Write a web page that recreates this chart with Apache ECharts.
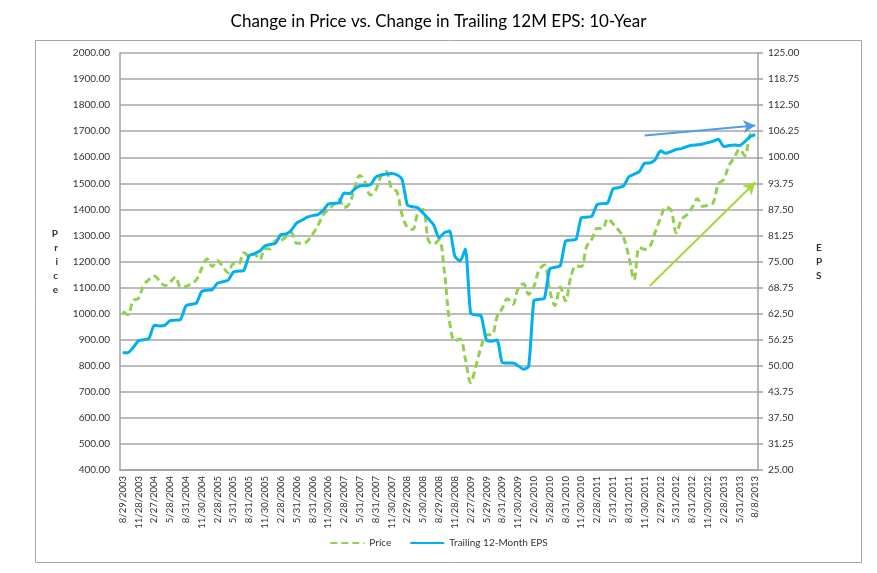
<!DOCTYPE html>
<html>
<head>
<meta charset="utf-8">
<script src="https://cdn.jsdelivr.net/npm/echarts@6/dist/echarts.min.js"></script>
<style>
html,body{margin:0;padding:0;background:#fff;}
#chart{width:877px;height:573px;}
</style>
</head>
<body>
<div id="chart"></div>
<script>
const categories = [
"8/29/2003","9/30/2003","10/31/2003","11/28/2003","12/31/2003",
"1/30/2004","2/27/2004","3/31/2004","4/30/2004","5/28/2004","6/30/2004","7/30/2004","8/31/2004","9/30/2004","10/29/2004","11/30/2004","12/31/2004",
"1/31/2005","2/28/2005","3/31/2005","4/29/2005","5/31/2005","6/30/2005","7/29/2005","8/31/2005","9/30/2005","10/31/2005","11/30/2005","12/30/2005",
"1/31/2006","2/28/2006","3/31/2006","4/28/2006","5/31/2006","6/30/2006","7/31/2006","8/31/2006","9/29/2006","10/31/2006","11/30/2006","12/29/2006",
"1/31/2007","2/28/2007","3/30/2007","4/30/2007","5/31/2007","6/29/2007","7/31/2007","8/31/2007","9/28/2007","10/31/2007","11/30/2007","12/31/2007",
"1/31/2008","2/29/2008","3/31/2008","4/30/2008","5/30/2008","6/30/2008","7/31/2008","8/29/2008","9/30/2008","10/31/2008","11/28/2008","12/31/2008",
"1/30/2009","2/27/2009","3/31/2009","4/30/2009","5/29/2009","6/30/2009","7/31/2009","8/31/2009","9/30/2009","10/30/2009","11/30/2009","12/31/2009",
"1/29/2010","2/26/2010","3/31/2010","4/30/2010","5/28/2010","6/30/2010","7/30/2010","8/31/2010","9/30/2010","10/29/2010","11/30/2010","12/31/2010",
"1/31/2011","2/28/2011","3/31/2011","4/29/2011","5/31/2011","6/30/2011","7/29/2011","8/31/2011","9/30/2011","10/31/2011","11/30/2011","12/30/2011",
"1/31/2012","2/29/2012","3/30/2012","4/30/2012","5/31/2012","6/29/2012","7/31/2012","8/31/2012","9/28/2012","10/31/2012","11/30/2012","12/31/2012",
"1/31/2013","2/28/2013","3/28/2013","4/30/2013","5/31/2013","6/28/2013","7/31/2013","8/8/2013"
];

const priceValues = [
1008,996,1050,1058,1110,
1131,1144,1126,1107,1121,1140,1102,1104,1115,1130,1174,1210,
1181,1203,1180,1157,1191,1191,1234,1220,1228,1207,1249,1248,
1280,1281,1295,1310,1270,1270,1277,1304,1336,1378,1400,1418,
1438,1407,1421,1482,1530,1503,1455,1474,1527,1545,1481,1468,
1379,1331,1323,1386,1400,1280,1267,1283,1165,969,896,903,
826,735,798,873,919,919,987,1021,1057,1036,1096,1115,
1074,1104,1169,1187,1089,1031,1102,1049,1141,1183,1181,1258,
1286,1327,1326,1364,1345,1321,1292,1219,1131,1253,1247,1258,
1312,1366,1408,1398,1310,1362,1379,1407,1441,1412,1416,1426,
1498,1515,1569,1598,1631,1606,1686,1697
];

const epsValues = [
53.13,53.13,54.38,56.00,56.25,
56.56,59.69,59.56,59.69,60.81,60.94,61.13,64.38,64.75,65.06,67.81,68.13,
68.25,69.81,70.13,70.50,72.44,72.69,72.88,76.38,76.88,77.50,78.75,79.06,
79.38,81.44,81.63,82.50,84.25,84.88,85.63,86.00,86.25,87.19,88.81,88.94,
89.06,91.44,91.25,92.38,93.13,93.25,93.38,95.25,95.75,96.00,96.13,95.81,
94.69,88.56,88.13,87.88,86.56,85.25,83.75,80.69,81.88,82.31,76.25,75.13,
78.00,62.56,62.19,61.94,56.19,55.88,56.19,50.75,50.63,50.63,50.00,49.19,
49.81,65.63,65.94,66.19,73.19,73.63,74.00,79.88,80.13,80.31,85.50,85.63,
85.88,88.69,88.88,89.06,92.44,92.69,93.13,95.31,95.94,96.56,98.56,98.63,
99.38,101.56,100.94,101.38,101.88,102.06,102.56,102.88,103.00,103.19,103.50,103.88,
104.31,102.56,102.81,102.94,102.81,103.75,104.94,105.38
];

// annotation arrows: [categoryIndex, value]
const epsArrow = [[99, 105.2], [120, 107.6]];
const priceArrow = [[100, 1107], [120, 1504]];

const FONT = 'Lato';
const chart = echarts.init(document.getElementById('chart'));
chart.setOption({
  animation: false,
  backgroundColor: '#fff',
  textStyle: { fontFamily: FONT },
  title: {
    text: 'Change in Price vs. Change in Trailing 12M EPS: 10-Year',
    left: 'center', top: 8,
    textStyle: { fontFamily: FONT, fontSize: 17, fontWeight: 'normal', color: '#000' }
  },
  graphic: [{
    type: 'rect', silent: true,
    shape: { x: 35.5, y: 40.5, width: 826, height: 522 },
    style: { fill: 'none', stroke: '#a6a6a6', lineWidth: 1 }
  }],
  legend: {
    bottom: 20, left: 'center',
    itemWidth: 34, itemHeight: 10, itemGap: 18,
    itemStyle: { opacity: 0 },
    textStyle: { fontFamily: FONT, fontSize: 10, color: '#333' },
    data: ['Price', 'Trailing 12-Month EPS']
  },
  grid: { left: 120, right: 119, top: 53, bottom: 103, containLabel: false },
  xAxis: {
    type: 'category',
    data: categories,
    boundaryGap: true,
    axisLine: { lineStyle: { color: '#a0a0a0', width: 1.5 } },
    axisTick: { show: false },
    axisLabel: {
      interval: 2, rotate: 90, fontSize: 9.5, color: '#333', fontFamily: FONT, margin: 6
    },
    splitLine: { show: false }
  },
  yAxis: [{
    type: 'value', min: 400, max: 2000, interval: 100,
    name: 'P\nr\ni\nc\ne', nameLocation: 'middle', nameRotate: 0, nameGap: 62,
    nameTextStyle: { fontFamily: FONT, fontSize: 10, fontWeight: 'bold', color: '#333', lineHeight: 14 },
    axisLine: { show: true, lineStyle: { color: '#a0a0a0', width: 1.5 } },
    axisTick: { show: false },
    axisLabel: { fontSize: 10, color: '#333', fontFamily: FONT, margin: 10, formatter: v => v.toFixed(2) },
    splitLine: { show: true, lineStyle: { color: '#a6a6a6', width: 1.5 } }
  }, {
    type: 'value', min: 25, max: 125, interval: 6.25, position: 'right',
    name: 'E\nP\nS', nameLocation: 'middle', nameRotate: 0, nameGap: 58,
    nameTextStyle: { fontFamily: FONT, fontSize: 10, fontWeight: 'bold', color: '#333', lineHeight: 14 },
    axisLine: { show: true, lineStyle: { color: '#a0a0a0', width: 1.5 } },
    axisTick: { show: true, length: 5, lineStyle: { color: '#a0a0a0', width: 1.5 } },
    axisLabel: { fontSize: 10, color: '#333', fontFamily: FONT, margin: 10, formatter: v => v.toFixed(2) },
    splitLine: { show: false }
  }],
  series: [{
    name: 'Price', type: 'line', yAxisIndex: 0,
    data: priceValues, symbol: 'none', smooth: 0.35,
    lineStyle: { color: '#92D050', width: 3, type: [7, 4] },
    itemStyle: { color: '#92D050' },
    z: 3,
    markLine: {
      silent: true, symbol: ['none', 'arrow'], symbolSize: [10, 12],
      label: { show: false },
      lineStyle: { color: '#A6D83C', width: 2, type: 'solid' },
      data: [[{ coord: priceArrow[0] }, { coord: priceArrow[1] }]]
    }
  }, {
    name: 'Trailing 12-Month EPS', type: 'line', yAxisIndex: 1,
    data: epsValues, symbol: 'none', smooth: 0.2,
    lineStyle: { color: '#00B0F0', width: 3, type: 'solid' },
    itemStyle: { color: '#00B0F0' },
    z: 4,
    markLine: {
      silent: true, symbol: ['none', 'arrow'], symbolSize: [10, 12],
      label: { show: false },
      lineStyle: { color: '#4F9DE8', width: 2, type: 'solid' },
      data: [[{ coord: epsArrow[0] }, { coord: epsArrow[1] }]]
    }
  }]
});
</script>
</body>
</html>
